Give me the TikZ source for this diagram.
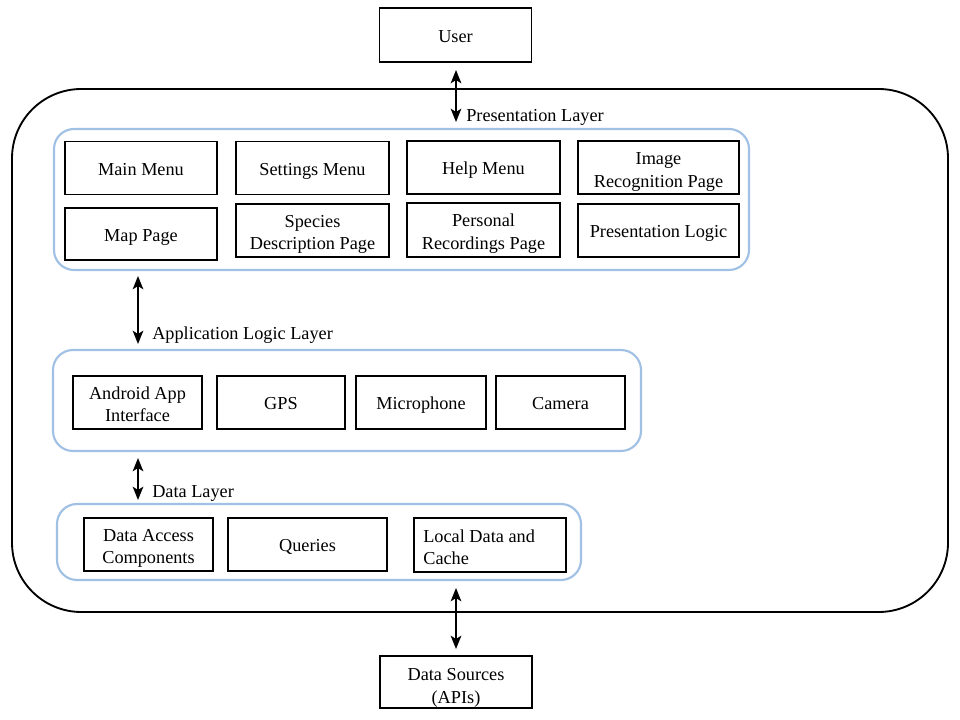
\documentclass[tikz,border=0pt]{standalone}
\usepackage{fontspec}
\setmainfont{Liberation Serif}
\usetikzlibrary{arrows.meta,positioning}
\definecolor{layerblue}{RGB}{160,192,228}
\tikzset{
  comp/.style={draw=black, line width=1.4pt, align=center, inner sep=0pt,
    font=\fontsize{13.7}{16.8}\selectfont},
  oneline/.style={text height=12pt, text depth=1pt},
  txt/.style={align=center, inner sep=0pt, font=\fontsize{13.7}{16.8}\selectfont},
  layer/.style={draw=layerblue, line width=1.6pt, rounded corners=15pt},
  outerbox/.style={draw=black, line width=1.4pt, rounded corners=52pt},
  biarrow/.style={{Stealth[length=10pt,width=8pt,inset=2.5pt]}-{Stealth[length=10pt,width=8pt,inset=2.5pt]}, line width=1.3pt},
  lbl/.style={anchor=west, inner sep=0pt, font=\fontsize{13.7}{16.8}\selectfont}
}
\begin{document}
\begin{tikzpicture}[x=0.75pt,y=-0.75pt]
\useasboundingbox (0,0) rectangle (960,720);
% outer container
\draw[outerbox] (12,89) rectangle (948,612);
% layer containers
\draw[layer] (54,129) rectangle (749,270);
\draw[layer] (53,350) rectangle (641,451);
\draw[layer] (57,504) rectangle (581,580);
% top and bottom nodes
\node[comp, oneline, minimum width=152*0.75pt, minimum height=54*0.75pt] (user) at (455.5,35) {User};
\node[comp, minimum width=152*0.75pt, minimum height=52*0.75pt,
  label={[txt,yshift=-4.5pt]center:{Data Sources\\(APIs)}}] (ds) at (456,682) {};
% presentation layer
\node[comp, oneline, minimum width=152*0.75pt, minimum height=53*0.75pt] (mainmenu) at (141,168) {Main Menu};
\node[comp, oneline, minimum width=153*0.75pt, minimum height=53*0.75pt] (settings) at (312.5,168) {Settings Menu};
\node[comp, oneline, minimum width=153*0.75pt, minimum height=53*0.75pt] (help) at (483.5,167.5) {Help Menu};
\node[comp, minimum width=161*0.75pt, minimum height=53*0.75pt,
  label={[txt,yshift=-3.3pt]center:{Image\\Recognition Page}}] (imgrec) at (658.5,167.5) {};
\node[comp, oneline, minimum width=152*0.75pt, minimum height=52*0.75pt] (map) at (141,234) {Map Page};
\node[comp, minimum width=153*0.75pt, minimum height=53*0.75pt,
  label={[txt,yshift=-3pt]center:{Species\\Description Page}}] (species) at (312.5,230.5) {};
\node[comp, minimum width=153*0.75pt, minimum height=54*0.75pt,
  label={[txt,yshift=-2.7pt]center:{Personal\\Recordings Page}}] (personal) at (483.5,230) {};
\node[comp, oneline, minimum width=161*0.75pt, minimum height=53*0.75pt] (plogic) at (658.5,230.5) {Presentation Logic};
% application logic layer
\node[comp, minimum width=129*0.75pt, minimum height=53*0.75pt,
  label={[txt,yshift=-1.5pt]center:{Android App\\Interface}}] (android) at (137.5,402.5) {};
\node[comp, oneline, minimum width=128*0.75pt, minimum height=53*0.75pt] (gps) at (281,402.5) {GPS};
\node[comp, oneline, minimum width=130*0.75pt, minimum height=53*0.75pt] (mic) at (421,402.5) {Microphone};
\node[comp, oneline, minimum width=129*0.75pt, minimum height=53*0.75pt] (camera) at (560.5,402.5) {Camera};
% data layer
\node[comp, minimum width=129*0.75pt, minimum height=53*0.75pt,
  label={[txt,yshift=-3pt]center:{Data Access\\Components}}] (dac) at (148.5,544.5) {};
\node[comp, oneline, minimum width=159*0.75pt, minimum height=53*0.75pt] (queries) at (307.5,544.5) {Queries};
\node[comp, minimum width=152*0.75pt, minimum height=54*0.75pt] (local) at (490,545) {};
\node[txt, align=left, anchor=west] (localtxt) at ([xshift=10*0.75pt,yshift=-1.5pt]local.west) {Local Data and\\Cache};
% arrows
\coordinate (a1t) at (456,70);
\coordinate (a1b) at (456,122);
\draw[biarrow] (a1t) -- (a1b);
\node[lbl] (plabel) at (466,117) {Presentation Layer};
\coordinate (a2t) at (138,276);
\coordinate (a2b) at (138,344);
\draw[biarrow] (a2t) -- (a2b);
\node[lbl] (alabel) at (152,335) {Application Logic Layer};
\coordinate (a3t) at (138,458);
\coordinate (a3b) at (138,500);
\draw[biarrow] (a3t) -- (a3b);
\node[lbl] (dlabel) at (152,493) {Data Layer};
\coordinate (a4t) at (456,588);
\coordinate (a4b) at (456,649);
\draw[biarrow] (a4t) -- (a4b);
\end{tikzpicture}
\end{document}
